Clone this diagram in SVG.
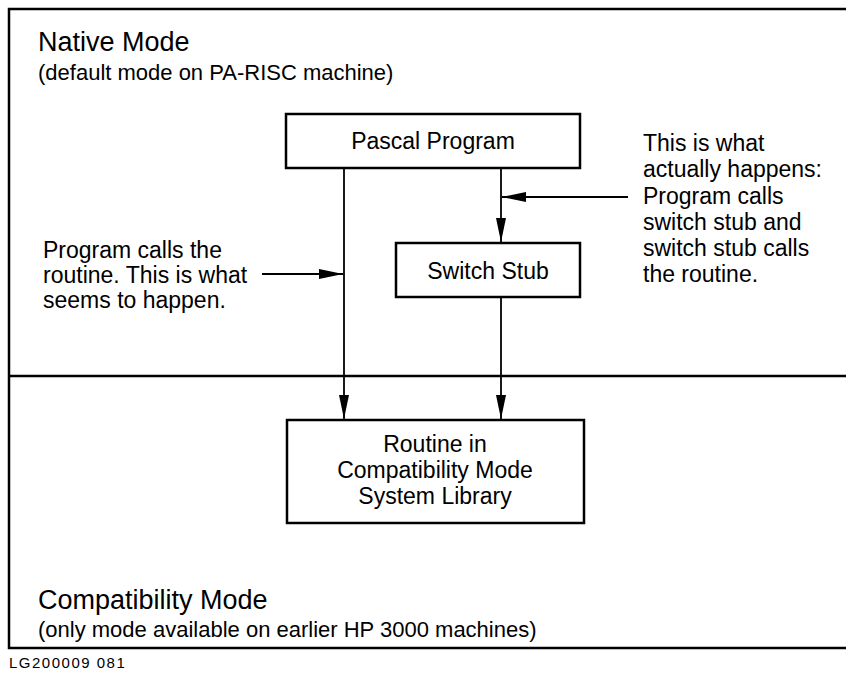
<svg xmlns="http://www.w3.org/2000/svg" width="846" height="675" viewBox="0 0 846 675">
<style>
text{font-family:"Liberation Sans",Arial,sans-serif;fill:#000}
.h{font-size:27px}
.s{font-size:22px}
.n{font-size:23px}
.b{font-size:23px;text-anchor:middle}
.box{fill:#fff;stroke:#000;stroke-width:2.5}
.frame{fill:none;stroke:#000;stroke-width:2.5}
.c{fill:none;stroke:#000;stroke-width:1.8}
</style>
<defs>
<marker id="ah" viewBox="0 0 24 10" refX="24" refY="5" markerWidth="24" markerHeight="10" markerUnits="userSpaceOnUse" orient="auto">
<path d="M0,0 L24,5 L0,10 Z" fill="#000"/>
</marker>
</defs>
<rect width="846" height="675" fill="#fff"/>
<g id="frame">
<path class="frame" d="M848,9 L9,9 L9,648 L848,648"/>
<line class="frame" x1="9" y1="376" x2="848" y2="376" stroke-width="2"/>
</g>
<g id="native-mode">
<text class="h" x="38" y="51">Native Mode</text>
<text class="s" x="38" y="80">(default mode on PA-RISC machine)</text>
</g>
<g id="compat-mode">
<text class="h" x="38" y="609">Compatibility Mode</text>
<text class="s" x="38" y="637">(only mode available on earlier HP 3000 machines)</text>
</g>
<g id="pascal">
<rect class="box" x="286" y="114" width="294" height="54"/>
<text class="b" x="433" y="149">Pascal Program</text>
</g>
<g id="stub">
<rect class="box" x="396" y="243" width="184" height="54"/>
<text class="b" x="488" y="279">Switch Stub</text>
</g>
<g id="routine">
<rect class="box" x="287" y="420" width="297" height="103"/>
<text class="b" x="435" y="452">Routine in</text>
<text class="b" x="435" y="478">Compatibility Mode</text>
<text class="b" x="435" y="504">System Library</text>
</g>
<g id="note-left">
<text class="n" x="43" y="258">Program calls the</text>
<text class="n" x="43" y="283">routine. This is what</text>
<text class="n" x="43" y="308">seems to happen.</text>
</g>
<g id="note-right">
<text class="n" x="643" y="151">This is what</text>
<text class="n" x="643" y="177">actually happens:</text>
<text class="n" x="643" y="204">Program calls</text>
<text class="n" x="643" y="230">switch stub and</text>
<text class="n" x="643" y="256">switch stub calls</text>
<text class="n" x="643" y="282">the routine.</text>
</g>
<g id="connectors">
<line class="c" x1="344" y1="168" x2="344" y2="419" marker-end="url(#ah)"/>
<line class="c" x1="501" y1="168" x2="501" y2="242" marker-end="url(#ah)"/>
<line class="c" x1="501" y1="297" x2="501" y2="419" marker-end="url(#ah)"/>
<line class="c" x1="262" y1="274" x2="343" y2="274" marker-end="url(#ah)"/>
<line class="c" x1="628" y1="197" x2="502" y2="197" marker-end="url(#ah)"/>
</g>
<text x="9" y="668" style="font-size:15px;letter-spacing:1.5px">LG200009 081</text>
</svg>
